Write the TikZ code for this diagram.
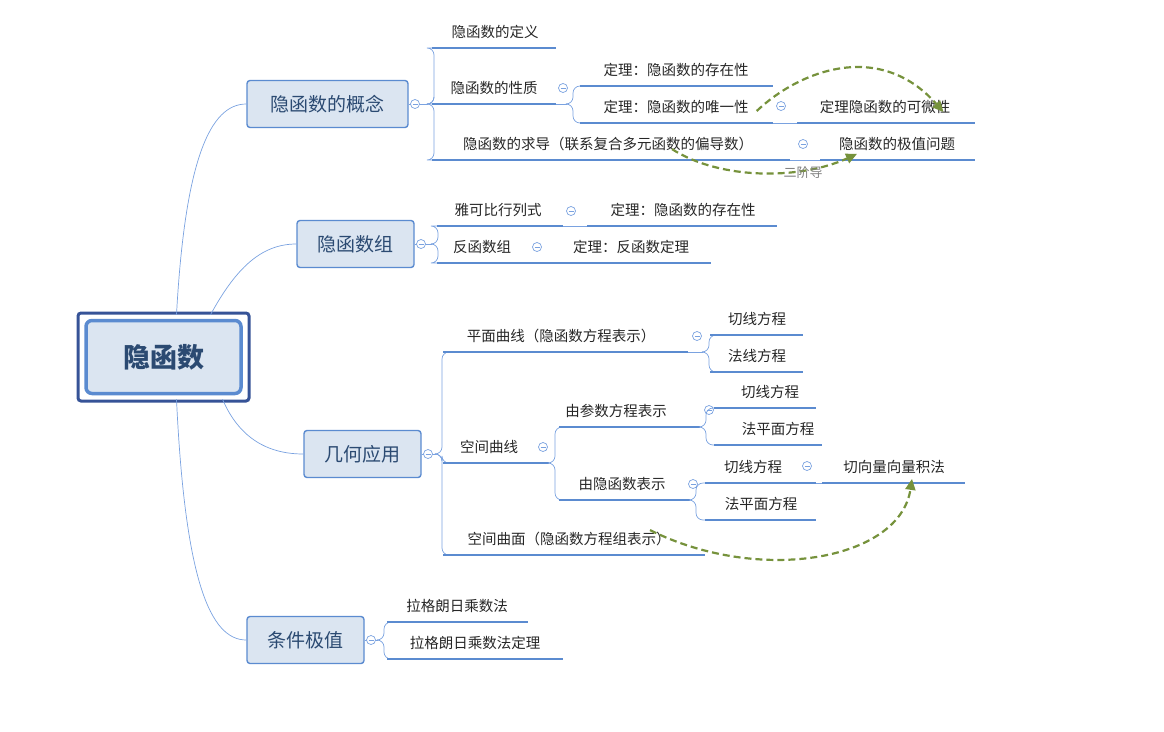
\documentclass[tikz,border=0pt]{standalone}
\usepackage{fontspec}
\setmainfont{Noto Sans CJK SC}
\usetikzlibrary{arrows.meta}
\definecolor{ln}{HTML}{5B8BD0}
\definecolor{br}{HTML}{7AA2E0}
\definecolor{bx}{HTML}{DBE5F1}
\definecolor{tx}{HTML}{2B4A72}
\definecolor{gr}{HTML}{76923C}
\tikzset{
 uline/.style={ln,line width=2.2pt},
 thin/.style={br,line width=0.7pt},
 lt/.style={inner sep=0,font=\fontsize{14.5}{17}\selectfont,text=black!85},
 mainbox/.style={draw=ln,line width=1.4pt,fill=bx,rounded corners=3pt,text=tx,font=\fontsize{19}{22}\selectfont,minimum height=47pt,inner sep=0},
 cb/.style={br,line width=0.7pt},
 garrow/.style={gr,line width=2.2pt,dashed,dash pattern=on 7pt off 4pt,-{Triangle[length=11pt,width=10pt]}},
}
\newcommand\lf[6]{\draw[uline] (#2,#4) -- (#3,#4); \node[lt] (#1) at (#5,#4-16) {#6};}
\newcommand\coll[2]{\draw[cb,fill=white] (#1,#2) circle (4.5); \draw[cb] (#1-2.5,#2) -- (#1+2.5,#2);}
\newcommand\brk[4]{\draw[thin,rounded corners=7pt] (#1,#2) -| (#1+6,#4) -- (#3,#4);}
\begin{document}
\begin{tikzpicture}[x=1pt,y=-1pt]
\useasboundingbox (0,0) rectangle (1164,731);
% root
\draw[line width=3pt,color=ln!85!blue!70!black,rounded corners=3pt] (78,313) rectangle (249,401);
\node[draw=ln,line width=3.5pt,fill=bx,rounded corners=6pt,minimum width=155pt,minimum height=73pt,inner sep=0,text=tx,font=\fontsize{27}{30}\bfseries\selectfont] (root) at (163.5,357) {隐函数};
% main nodes
\node[mainbox,minimum width=161pt] (m1) at (327.5,104) {隐函数的概念};
\node[mainbox,minimum width=117pt] (m2) at (355.5,244) {隐函数组};
\node[mainbox,minimum width=117pt] (m3) at (362.5,454) {几何应用};
\node[mainbox,minimum width=117pt] (m4) at (305.5,640) {条件极值};
\draw[thin] ([xshift=13pt,yshift=4pt]root.north) .. controls (185,160) and (210,104) .. (m1.west);
\draw[thin] ([xshift=47pt,yshift=4pt]root.north) .. controls (235,270) and (260,244) .. (m2.west);
\draw[thin] ([xshift=59pt,yshift=-4pt]root.south) .. controls (240,440) and (270,454) .. (m3.west);
\draw[thin] ([xshift=13pt,yshift=-4pt]root.south) .. controls (185,580) and (210,640) .. (m4.west);
% branch 1
\draw[thin] (m1.east) -- (428,104);
\coll{415}{104}
\brk{428}{104}{432}{48}\brk{428}{104}{432}{104}\brk{428}{104}{432}{160}
\lf{a1}{432}{556}{48}{495}{隐函数的定义}
\lf{a2}{432}{556}{104}{494}{隐函数的性质}
\lf{a3}{432}{790}{160}{608}{隐函数的求导（联系复合多元函数的偏导数）}
\draw[thin] (556,104) -- (567,104);
\coll{563}{88}
\brk{567}{104}{580}{86}\brk{567}{104}{580}{123}
\lf{a21}{580}{773}{86}{676}{定理：隐函数的存在性}
\lf{a22}{580}{773}{123}{676}{定理：隐函数的唯一性}
\draw[thin] (773,123) -- (797,123);
\coll{781}{106}
\lf{a221}{797}{975}{123}{885}{定理隐函数的可微性}
\draw[thin] (790,160) -- (820,160);
\coll{803}{144}
\lf{a31}{820}{975}{160}{897}{隐函数的极值问题}
\draw[garrow] ([xshift=8pt,yshift=-4pt]a22.east) .. controls (800,70) and (880,40) .. ([xshift=-7pt,yshift=-12pt]a221.north east);
\draw[garrow] ([xshift=64pt,yshift=2pt]a3.south) .. controls (720,180) and (800,180) .. ([xshift=-40pt,yshift=-3pt]a31.south);
\node[font=\fontsize{13}{15}\itshape\selectfont,text=gray] (e2) at (803,173) {二阶导};
% branch 2
\draw[thin] (m2.east) -- (432,244);
\coll{421}{244}
\brk{432}{244}{437}{226}\brk{432}{244}{437}{263}
\lf{b1}{437}{563}{226}{498}{雅可比行列式}
\draw[thin] (563,226) -- (587,226);
\coll{571}{211}
\lf{b11}{587}{777}{226}{683}{定理：隐函数的存在性}
\lf{b2}{437}{553}{263}{482}{反函数组}
\coll{537}{247}
\lf{b21}{553}{711}{263}{631}{定理：反函数定理}
% branch 3
\draw[thin] (m3.east) -- (436,454);
\coll{428}{454}
\brk{436}{454}{443}{352}\brk{436}{454}{443}{463}\brk{436}{454}{443}{555}
\lf{c1}{443}{688}{352}{561}{平面曲线（隐函数方程表示）}
\coll{697}{336}
\draw[thin] (688,352) -- (703,352);
\brk{703}{352}{710}{335}\brk{703}{352}{710}{372}
\lf{c11}{710}{803}{335}{757}{切线方程}
\lf{c12}{710}{803}{372}{757}{法线方程}
\lf{c2}{443}{549}{463}{489}{空间曲线}
\coll{543}{447}
\brk{549}{463}{559}{427}\brk{549}{463}{559}{500}
\lf{c21}{559}{700}{427}{616}{由参数方程表示}
\coll{709}{410}
\brk{700}{427}{714}{408}\brk{700}{427}{714}{445}
\lf{c211}{714}{816}{408}{770}{切线方程}
\lf{c212}{714}{822}{445}{778}{法平面方程}
\lf{c22}{559}{690}{500}{622}{由隐函数表示}
\coll{693}{484}
\brk{690}{500}{705}{483}\brk{690}{500}{705}{520}
\lf{c221}{705}{816}{483}{753}{切线方程}
\coll{807}{466}
\lf{c2211}{822}{965}{483}{894}{切向量向量积法}
\draw[thin] (816,483) -- (822,483);
\lf{c222}{705}{816}{520}{761}{法平面方程}
\lf{c3}{443}{705}{555}{569}{空间曲面（隐函数方程组表示）}
\draw[garrow] ([xshift=81pt,yshift=16pt]c3.south) .. controls (760,585) and (900,560) .. ([xshift=18pt,yshift=-5pt]c2211.south);
% branch 4
\draw[thin] (m4.east) -- (378,640);
\coll{371}{640}
\brk{378}{640}{387}{622}\brk{378}{640}{387}{659}
\lf{d1}{387}{528}{622}{457}{拉格朗日乘数法}
\lf{d2}{387}{563}{659}{475}{拉格朗日乘数法定理}
\end{tikzpicture}
\end{document}
